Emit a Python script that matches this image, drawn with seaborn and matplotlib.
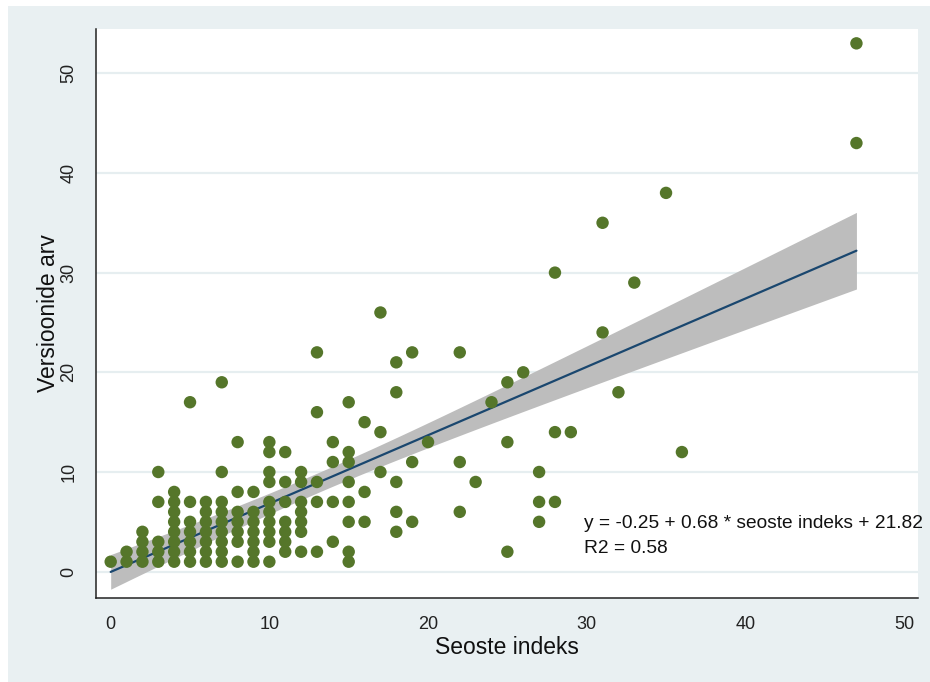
import matplotlib
matplotlib.use("Agg")
import matplotlib.pyplot as plt
from matplotlib.patches import Rectangle
import numpy as np
import pandas as pd
import seaborn as sns

# ---- data: x value -> list of y values at that x ----
seoste_x = [0, 1, 2, 3, 4, 5, 6, 7, 8, 9, 10, 11, 12, 13, 14, 15, 16, 17, 18, 19,
            20, 22, 23, 24, 25, 26, 27, 28, 29, 31, 32, 33, 35, 36, 47]
versioonid_y = [
    [1],
    [1, 2],
    [1, 2, 3, 4],
    [1, 2, 3, 7, 10],
    [1, 2, 3, 4, 5, 6, 7, 8],
    [1, 2, 3, 4, 5, 7, 17],
    [1, 2, 3, 4, 5, 6, 7],
    [1, 2, 3, 4, 5, 6, 7, 10, 19],
    [1, 3, 4, 5, 6, 8, 13],
    [1, 2, 3, 4, 5, 6, 8],
    [1, 3, 4, 5, 6, 7, 9, 10, 12, 13],
    [2, 3, 4, 5, 7, 9, 12],
    [2, 4, 5, 6, 7, 9, 10],
    [2, 7, 9, 16, 22],
    [3, 7, 11, 13],
    [1, 2, 5, 7, 9, 11, 12, 17],
    [5, 8, 15],
    [10, 14, 26],
    [4, 6, 9, 18, 21],
    [5, 11, 22],
    [13],
    [6, 11, 22],
    [9],
    [17],
    [2, 13, 19],
    [20],
    [5, 7, 10],
    [7, 14, 30],
    [14],
    [24, 35],
    [18],
    [29],
    [38],
    [12],
    [43, 53],
]
x_ticks = [0, 10, 20, 30, 40, 50]
y_ticks = [0, 10, 20, 30, 40, 50]
x_label = "Seoste indeks"
y_label = "Versioonide arv"
annot_lines = ["y = -0.25 + 0.68 * seoste indeks + 21.82", "R2 = 0.58"]

rows = [(xv, yv) for xv, ys in zip(seoste_x, versioonid_y) for yv in ys]
df = pd.DataFrame(rows, columns=["seoste", "versioonid"])

# ---- style ----
sns.set_style("white")
plt.rcParams["font.family"] = ["Liberation Sans", "DejaVu Sans"]

BG = "#E9F0F2"
GRID = "#E6EEF0"
GREEN = "#55762A"
NAVY = "#1A476F"
BAND = "#BDBDBD"

fig = plt.figure(figsize=(9.3, 6.82), dpi=100)
fig.patch.set_facecolor("white")
fig.add_artist(Rectangle((8 / 930, 0), 1 - 8 / 930, 1 - 6 / 682,
                         transform=fig.transFigure, facecolor=BG,
                         edgecolor="none", zorder=-10))

ax = fig.add_axes([95.7 / 930, (682 - 598) / 682, (918 - 95.7) / 930, (598 - 29) / 682])
ax.set_facecolor("white")

# analytic 95% confidence band of the fitted mean (as in Stata's lfitci)
xv = df["seoste"].to_numpy(float)
yv = df["versioonid"].to_numpy(float)
n = len(xv)
slope, intercept = np.polyfit(xv, yv, 1)
resid = yv - (intercept + slope * xv)
s = np.sqrt(np.sum(resid ** 2) / (n - 2))
xbar = xv.mean()
sxx = np.sum((xv - xbar) ** 2)
grid_x = np.linspace(xv.min(), xv.max(), 200)
fit = intercept + slope * grid_x
se = s * np.sqrt(1.0 / n + (grid_x - xbar) ** 2 / sxx)
tcrit = 1.974
ax.fill_between(grid_x, fit - tcrit * se, fit + tcrit * se, color=BAND,
                linewidth=0, zorder=2)

sns.regplot(data=df, x="seoste", y="versioonid", ax=ax, scatter=False,
            ci=None, truncate=True,
            line_kws=dict(color=NAVY, lw=1.6, zorder=3))

sns.scatterplot(data=df, x="seoste", y="versioonid", ax=ax, color=GREEN,
                s=80, edgecolor="none", linewidth=0, zorder=4)

ax.set_xlim(-0.945, 50.88)
ax.set_ylim(-2.64, 54.44)
ax.set_xticks(x_ticks)
ax.set_yticks(y_ticks)
ax.set_xticklabels([str(v) for v in x_ticks])
ax.set_yticklabels([str(v) for v in y_ticks])

ax.yaxis.grid(True, color=GRID, lw=1.6, zorder=0)
ax.xaxis.grid(False)
ax.set_axisbelow(True)

for sp in ["top", "right"]:
    ax.spines[sp].set_visible(False)
for sp in ["left", "bottom"]:
    ax.spines[sp].set_color("#222222")
    ax.spines[sp].set_linewidth(1.1)

ax.tick_params(axis="both", direction="out", length=6.8, width=1.1,
               color="#444444", labelsize=13, labelcolor="#222222", pad=6.5)
ax.tick_params(axis="y", labelrotation=90)
for lab in ax.get_yticklabels():
    lab.set_va("center")

ax.set_xlabel(x_label, fontsize=16.5, color="#111111", labelpad=2)
ax.set_ylabel(y_label, fontsize=16.5, color="#111111", labelpad=0)

ax.text(29.83, 4.38, annot_lines[0], fontsize=13.8, color="#111111",
        ha="left", va="baseline", clip_on=False, zorder=6)
ax.text(29.83, 1.9, annot_lines[1], fontsize=13.8, color="#111111",
        ha="left", va="baseline", clip_on=False, zorder=6)

fig.savefig("out.png", dpi=100, facecolor=fig.get_facecolor())
